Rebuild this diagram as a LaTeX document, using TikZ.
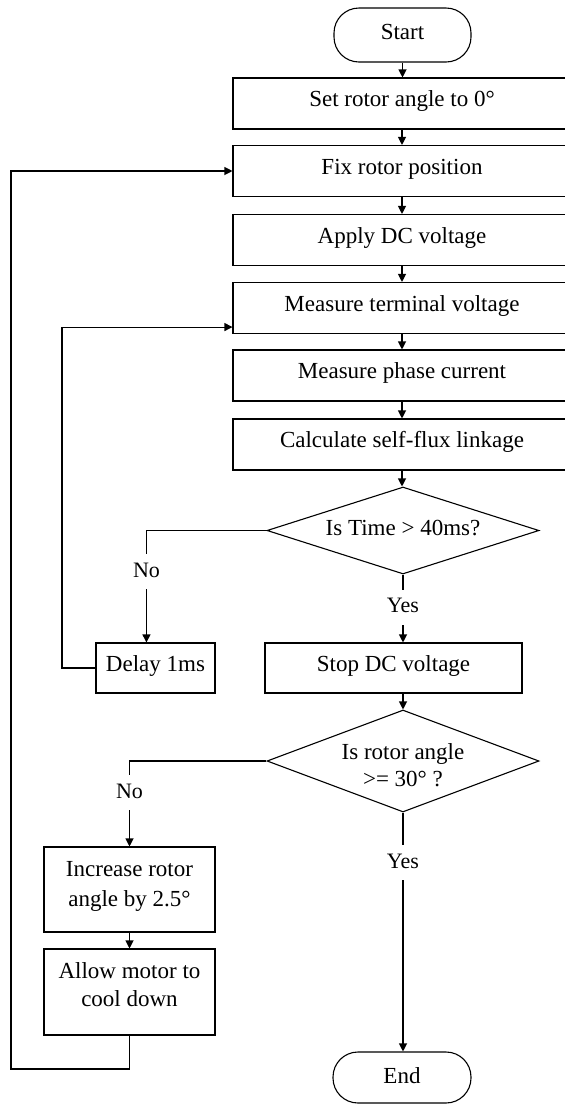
\documentclass[tikz,border=0pt]{standalone}
\usepackage{fontspec}
\setmainfont{Liberation Serif}
\usetikzlibrary{shapes.geometric,arrows.meta,calc}

\begin{document}
\begin{tikzpicture}[x=1pt,y=-1pt,
  every node/.style={font=\fontsize{23}{28}\selectfont},
  arr/.style={line width=1.1pt,-{Triangle[length=8pt,width=8pt]}},
  proc/.style={draw,line width=1.1pt,rectangle,inner sep=0pt,
    text height=16pt,text depth=10pt,minimum height=51pt},
  term/.style={draw,line width=1.1pt,rectangle,rounded corners=25pt,inner sep=0pt,
    minimum width=137pt,text height=16pt,text depth=8pt},
  decision/.style={draw,line width=1.1pt,diamond,inner sep=0pt,minimum width=272pt},
  answer/.style={fill=white,inner xsep=2pt,inner ysep=8pt,
    font=\fontsize{22}{26}\selectfont,text height=15pt,text depth=4pt}
]
% page frame
\path[fill=white,use as bounding box] (0,0) rectangle (565,1104);

% main column
\node[term,minimum height=54pt] (start) at (402.5,35) {Start};
\node[proc,minimum width=338pt] (set)   at (402,103.5) {Set rotor angle to 0°};
\node[proc,minimum width=338pt] (fix)   at (402,171)   {Fix rotor position};
\node[proc,minimum width=338pt] (apply) at (402,240)   {Apply DC voltage};
\node[proc,minimum width=338pt] (meas)  at (402,308)   {Measure terminal voltage};
\node[proc,minimum width=338pt] (phase) at (402,375.5) {Measure phase current};
\node[proc,minimum width=338pt] (calc)  at (402,444.5) {Calculate self-flux linkage};

\node[decision,minimum height=87pt,aspect=3.13,text height=16pt,text depth=7pt]
  (d1) at (403,530.5) {Is Time > 40ms?};

\node[proc,minimum width=257pt,minimum height=50pt] (stop)  at (393.5,668) {Stop DC voltage};
\node[proc,minimum width=119pt,minimum height=50pt] (delay) at (155.5,668) {Delay 1ms};

\node[decision,minimum height=102pt,aspect=2.67,text height=16pt,text depth=20pt,
  font=\fontsize{23}{27}\selectfont]
  (d2) at (403,761) {\begin{tabular}[t]{@{}c@{}}Is rotor angle\\>= 30° ?\end{tabular}};

\node[proc,minimum width=171pt,minimum height=85pt,text depth=42pt,
  font=\fontsize{23}{30}\selectfont]
  (inc) at (129.5,889.5) {\begin{tabular}[t]{@{}c@{}}Increase rotor\\angle by 2.5°\end{tabular}};
\node[proc,minimum width=171pt,minimum height=86pt,text depth=43pt,
  font=\fontsize{23}{28.3}\selectfont]
  (allow) at (129.5,992) {\begin{tabular}[t]{@{}c@{}}Allow motor to\\cool down\end{tabular}};

\node[term,minimum width=138pt,minimum height=51pt,text depth=5pt] (end) at (402,1077.5) {End};

% straight flow
\draw[arr] (start) -- (start |- set.north);
\draw[arr] (set.south) -- (fix.north);
\draw[arr] (fix.south) -- (apply.north);
\draw[arr] (apply.south) -- (meas.north);
\draw[arr] (meas.south) -- (phase.north);
\draw[arr] (phase.south) -- (calc.north);
\draw[arr] (calc.south) -- (calc.south |- d1.north);
\draw[arr] (d1.south) -- (d1.south |- stop.north) node[answer,pos=0.48] (yes1) {Yes};
\draw[arr] (stop.south -| d2.north) -- (d2.north);
\draw[arr] (d2.south) -- (d2.south |- end.north) node[answer,pos=0.21] (yes2) {Yes};
\draw[arr] (inc.south) -- (allow.north);

% inner loop: wait and measure again
\coordinate (n1) at ([xshift=-120pt]d1.west);
\draw[arr] (d1.west) -- (n1) -- (n1 |- delay.north) node[answer,pos=0.37] (no1) {No};
\coordinate (l1) at (62,667);
\coordinate (mentry) at ([yshift=7pt]meas.south west);
\draw[arr] (delay.west) -- (delay.west -| l1) -- (l1 |- mentry) -- (mentry);

% outer loop: next rotor angle
\draw[arr] (d2.west) -| (inc.north) node[answer,pos=0.686] (no2) {No};
\coordinate (l2) at (11,1069);
\draw[arr] (allow.south) -- (allow.south |- l2) -- (l2) -- (l2 |- fix.west) -- (fix.west);
\end{tikzpicture}
\end{document}
